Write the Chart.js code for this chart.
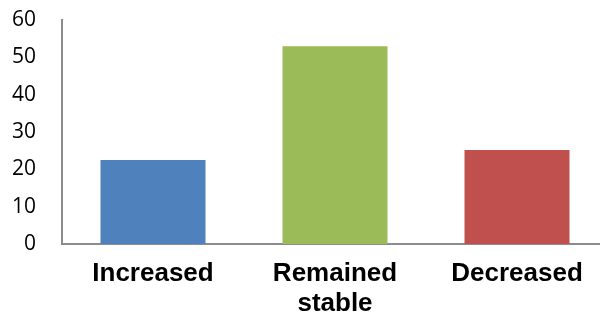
<!DOCTYPE html>
<html><head><meta charset="utf-8">
<script src="https://cdn.jsdelivr.net/npm/chart.js@4"></script>
<style>html,body{margin:0;padding:0;background:#fff;overflow:hidden}#wrap{width:600px;height:320px;overflow:hidden}</style>
</head><body><div id="wrap"><canvas id="c" width="608" height="320"></canvas></div>
<script>
const categories = [["Increased"], ["Remained", "stable"], ["Decreased"]];
const values = [22.5, 53, 25.2];
const barColors = ["#4F81BD", "#9BBB59", "#C0504D"];
const yTicks = [0, 10, 20, 30, 40, 50, 60];

new Chart(document.getElementById('c'), {
  type: 'bar',
  data: { labels: categories, datasets: [{ data: values, backgroundColor: barColors, barPercentage: 0.577, categoryPercentage: 1 }] },
  options: {
    responsive: false, animation: false,
    layout: { padding: 0 },
    plugins: { legend: { display: false }, tooltip: { enabled: false } },
    scales: {
      x: {
        grid: { display: false, drawTicks: false },
        border: { display: true, color: '#8c8c8c', width: 2 },
        ticks: { color: '#000', padding: 15, maxRotation: 0, autoSkip: false,
          font: { family: 'Liberation Sans', size: 26, weight: 'bold', lineHeight: 1.15 } },
        afterFit: s => { s.height = 76; }
      },
      y: {
        min: 0, max: 60,
        afterBuildTicks: s => { s.ticks = yTicks.map(v => ({ value: v })); },
        grid: { display: false, drawTicks: false },
        border: { display: true, color: '#8c8c8c', width: 2 },
        ticks: { color: '#000', padding: 26, font: { family: 'Open Sans', size: 21 } },
        afterFit: s => { s.width = 62; s.paddingTop = 20; s.paddingBottom = 0; }
      }
    }
  }
});
</script></body></html>
